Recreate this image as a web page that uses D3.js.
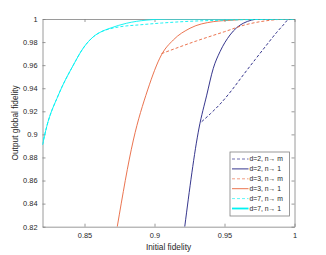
<!DOCTYPE html>
<html>
<head>
<meta charset="utf-8">
<script src="https://cdn.jsdelivr.net/npm/d3@7"></script>
<style>
body{margin:0;background:#fff;}
text{font-family:"Liberation Sans",Arial,sans-serif;fill:#262626;}
</style>
</head>
<body>
<svg id="chart"></svg>
<script>
// values
const xTicks = [0.85, 0.9, 0.95, 1];
const yTicks = [0.82, 0.84, 0.86, 0.88, 0.9, 0.92, 0.94, 0.96, 0.98, 1];

// d=2
const d2mX = [0.9337, 0.94, 0.9468, 0.955, 0.9634, 0.972, 0.9801, 0.987, 0.992, 0.9955, 1];
const d2mY = [0.911, 0.918, 0.9262, 0.938, 0.9515, 0.965, 0.9775, 0.988, 0.9948, 0.9993, 1];
const d2oX = [0.9216, 0.9318, 0.9373, 0.942, 0.9468, 0.9539, 0.9634, 0.9754, 0.99, 1];
const d2oY = [0.82, 0.9055, 0.934, 0.9573, 0.9717, 0.9861, 0.9963, 1, 1, 1];
// d=3
const d3mX = [0.905, 0.93, 0.95, 0.965, 0.98, 0.99, 1];
const d3mY = [0.970, 0.981, 0.989, 0.995, 0.9985, 0.9997, 1];
const d3oX = [0.8734, 0.8849, 0.8951, 0.905, 0.9134, 0.9254, 0.942, 0.956, 0.97, 1];
const d3oY = [0.82, 0.8951, 0.9385, 0.969, 0.9818, 0.992, 0.9977, 0.999, 1, 1];
// d=7
const d7mX = [0.82, 0.823, 0.8313, 0.842, 0.849, 0.8563, 0.862, 0.8682, 0.875, 0.89, 0.905, 0.925, 0.95, 1];
const d7mY = [0.891, 0.9067, 0.934, 0.960, 0.9746, 0.9846, 0.989, 0.9915, 0.9932, 0.995, 0.9965, 0.998, 0.999, 1];
const d7oX = [0.82, 0.823, 0.8313, 0.842, 0.849, 0.8563, 0.862, 0.8682, 0.880, 0.894, 0.91, 1];
const d7oY = [0.891, 0.9067, 0.934, 0.960, 0.9746, 0.9846, 0.989, 0.992, 0.9963, 0.999, 1, 1];

const labels = ["d=2, n\u2192 m", "d=2, n\u2192 1", "d=3, n\u2192 m", "d=3, n\u2192 1", "d=7, n\u2192 m", "d=7, n\u2192 1"];
const colors = ["#1f1f80", "#1f1f80", "#e8643c", "#e8643c", "#00f2f2", "#00f2f2"];
const dashed = [true, false, true, false, true, false];

const seriesX = [d2mX, d2oX, d3mX, d3oX, d7mX, d7oX];
const seriesY = [d2mY, d2oY, d3mY, d3oY, d7mY, d7oY];

const w = 326, h = 255;
const padLeft = 42.5, padRight = 294.5, padTop = 19, padBottom = 226.7;
const axisColor = "#808080";

let svg = d3.select("#chart").attr("width", w).attr("height", h);

let xScale = d3.scaleLinear().domain([0.82, 1]).range([padLeft, padRight]);
let yScale = d3.scaleLinear().domain([0.82, 1]).range([padBottom, padTop]);

svg.append("clipPath").attr("id", "clip")
  .append("rect")
  .attr("x", padLeft).attr("y", padTop)
  .attr("width", padRight - padLeft).attr("height", padBottom - padTop);

// axes, ticks pointing inward, box on
let styleAxis = (g) => {
  g.select(".domain").attr("stroke", axisColor).attr("stroke-width", 0.8);
  g.selectAll(".tick line").attr("stroke", axisColor).attr("stroke-width", 0.8);
  g.selectAll("text").style("font-size", "7.4px").attr("fill", "#262626");
};

svg.append("g")
  .attr("transform", "translate(0," + padBottom + ")")
  .call(d3.axisBottom(xScale).tickValues(xTicks).tickSize(-3).tickSizeOuter(0).tickPadding(6).tickFormat(d3.format("")))
  .call(styleAxis);

svg.append("g")
  .attr("transform", "translate(0," + padTop + ")")
  .call(d3.axisTop(xScale).tickValues(xTicks).tickSize(-3).tickSizeOuter(0).tickFormat(""))
  .call(styleAxis);

svg.append("g")
  .attr("transform", "translate(" + padLeft + ",0)")
  .call(d3.axisLeft(yScale).tickValues(yTicks).tickSize(-3).tickSizeOuter(0).tickPadding(5).tickFormat(d3.format("")))
  .call(styleAxis);

svg.append("g")
  .attr("transform", "translate(" + padRight + ",0)")
  .call(d3.axisRight(yScale).tickValues(yTicks).tickSize(-3).tickSizeOuter(0).tickFormat(""))
  .call(styleAxis);

// curves
let line = d3.line()
  .x(d => xScale(d[0]))
  .y(d => yScale(d[1]))
  .curve(d3.curveMonotoneX);

let plot = svg.append("g").attr("clip-path", "url(#clip)");
seriesX.forEach((xs, i) => {
  let pts = xs.map((x, j) => [x, seriesY[i][j]]);
  plot.append("path")
    .datum(pts)
    .attr("d", line)
    .attr("fill", "none")
    .attr("stroke", colors[i])
    .attr("stroke-width", 0.9)
    .attr("stroke-dasharray", dashed[i] ? "3,2" : null);
});

// axis labels
svg.append("text")
  .attr("x", (padLeft + padRight) / 2).attr("y", 250)
  .attr("text-anchor", "middle")
  .style("font-size", "8.3px")
  .text("Initial fidelity");

svg.append("text")
  .attr("transform", "translate(18," + (padTop + padBottom) / 2 + ") rotate(-90)")
  .attr("text-anchor", "middle")
  .style("font-size", "8.3px")
  .text("Output global fidelity");

// legend
let lx = 230, ly = 152, lw = 59.5, lh = 64, rowH = 9.9;
let legend = svg.append("g");
legend.append("rect")
  .attr("x", lx).attr("y", ly).attr("width", lw).attr("height", lh)
  .attr("fill", "#fff").attr("stroke", axisColor).attr("stroke-width", 0.8);

labels.forEach((lab, i) => {
  let cy = ly + 7 + i * rowH;
  legend.append("line")
    .attr("x1", lx + 2).attr("x2", lx + 18.5)
    .attr("y1", cy).attr("y2", cy)
    .attr("stroke", colors[i])
    .attr("stroke-opacity", dashed[i] ? 0.7 : 1)
    .attr("stroke-width", i == 5 ? 1.8 : 0.9)
    .attr("stroke-dasharray", dashed[i] ? "3,2" : null);
  legend.append("text")
    .attr("x", lx + 19.5).attr("y", cy + 2.4)
    .style("font-size", "6.8px")
    .text(lab);
});
</script>
</body>
</html>
